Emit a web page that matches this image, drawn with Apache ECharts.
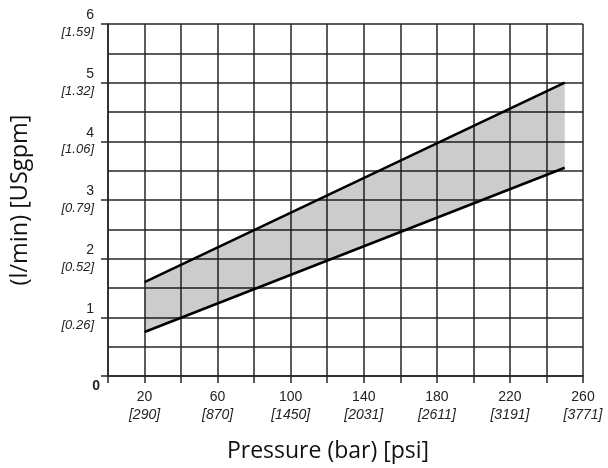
<!DOCTYPE html>
<html>
<head>
<meta charset="utf-8">
<script src="https://cdn.jsdelivr.net/npm/echarts@6/dist/echarts.min.js"></script>
<style>
html,body{margin:0;padding:0;background:#fff;}
#c{width:608px;height:468px;}
</style>
</head>
<body>
<div id="c"></div>
<script>
// ---- data ----
var pressureBar = [20, 250];
var lowerFlow = [0.75, 3.55];
var upperFlow = [1.6, 5.0];
var xLabelBar = [20, 60, 100, 140, 180, 220, 260];
var xLabelPsi = ['290', '870', '1450', '2031', '2611', '3191', '3771'];
var yLabelLpm = [0, 1, 2, 3, 4, 5, 6];
var yLabelGpm = ['', '0.26', '0.52', '0.79', '1.06', '1.32', '1.59'];

var lowerData = pressureBar.map(function (p, i) { return [p, lowerFlow[i]]; });
var upperData = pressureBar.map(function (p, i) { return [p, upperFlow[i]]; });
var bandRows = pressureBar.map(function (p, i) { return [p, lowerFlow[i], upperFlow[i]]; });

var gridColor = '#262626';
var chart = echarts.init(document.getElementById('c'));
chart.setOption({
  animation: false,
  backgroundColor: '#ffffff',
  grid: { left: 107, right: 25, top: 24, bottom: 92, containLabel: false },
  xAxis: {
    type: 'value', min: 0, max: 260, interval: 20,
    name: 'Pressure (bar) [psi]',
    nameLocation: 'middle', nameGap: 64,
    nameTextStyle: { fontFamily: 'Open Sans', fontSize: 23, color: '#111', padding: [0, 35, 0, 0] },
    axisLine: { show: true, lineStyle: { color: gridColor, width: 1.5 } },
    axisTick: { show: true, length: 7, lineStyle: { color: gridColor, width: 1.5 } },
    splitLine: { show: true, lineStyle: { color: gridColor, width: 1.5 } },
    axisLabel: {
      margin: 12,
      formatter: function (v) {
        var i = xLabelBar.indexOf(v);
        if (i < 0) return '';
        return '{n|' + v + '}\n{b|[' + xLabelPsi[i] + ']}';
      },
      rich: {
        n: { fontFamily: 'Liberation Sans', fontSize: 14, color: '#222', lineHeight: 18 },
        b: { fontFamily: 'Liberation Sans', fontSize: 14, fontStyle: 'italic', color: '#222', lineHeight: 18 }
      }
    }
  },
  yAxis: {
    type: 'value', min: 0, max: 6, interval: 1,
    name: '(l/min) [USgpm]',
    nameLocation: 'middle', nameGap: 76,
    nameTextStyle: { fontFamily: 'Open Sans', fontSize: 23.5, color: '#111' },
    axisLine: { show: true, lineStyle: { color: gridColor, width: 1.5 } },
    axisTick: { show: true, length: 7, lineStyle: { color: gridColor, width: 1.5 } },
    minorTick: { show: false, splitNumber: 2 },
    splitLine: { show: true, lineStyle: { color: gridColor, width: 1.5 } },
    minorSplitLine: { show: true, lineStyle: { color: gridColor, width: 1.5 } },
    axisLabel: {
      margin: 8,
      formatter: function (v) {
        var i = yLabelLpm.indexOf(v);
        if (i < 0) return '';
        if (yLabelGpm[i] === '') return '{e| }\n{z|' + v + '}';
        return '{n|' + v + '}\n{b|[' + yLabelGpm[i] + ']}';
      },
      rich: {
        n: { fontFamily: 'Liberation Sans', fontSize: 14, color: '#222', lineHeight: 17, align: 'right', padding: [0, 6, 0, 0] },
        b: { fontFamily: 'Liberation Sans', fontSize: 13, fontStyle: 'italic', color: '#222', lineHeight: 17, align: 'right', padding: [0, 6, 0, 0] },
        e: { fontSize: 14, lineHeight: 20 },
        z: { fontFamily: 'Liberation Sans', fontSize: 14, fontWeight: 'bold', color: '#222', lineHeight: 20, align: 'right' }
      }
    }
  },
  series: [
    {
      type: 'custom',
      data: bandRows,
      encode: { x: 0, y: [1, 2] },
      z: 2,
      renderItem: function (params, api) {
        if (params.dataIndex !== 0) return null;
        var pts = [];
        var n = bandRows.length;
        for (var i = 0; i < n; i++) pts.push(api.coord([bandRows[i][0], bandRows[i][2]]));
        for (var j = n - 1; j >= 0; j--) pts.push(api.coord([bandRows[j][0], bandRows[j][1]]));
        return {
          type: 'polygon',
          shape: { points: pts },
          style: { fill: 'rgba(0,0,0,0.2)' }
        };
      }
    },
    {
      type: 'line', data: lowerData, symbol: 'none',
      lineStyle: { color: '#000', width: 2.5 }, z: 3
    },
    {
      type: 'line', data: upperData, symbol: 'none',
      lineStyle: { color: '#000', width: 2.5 }, z: 3
    }
  ]
});
</script>
</body>
</html>
